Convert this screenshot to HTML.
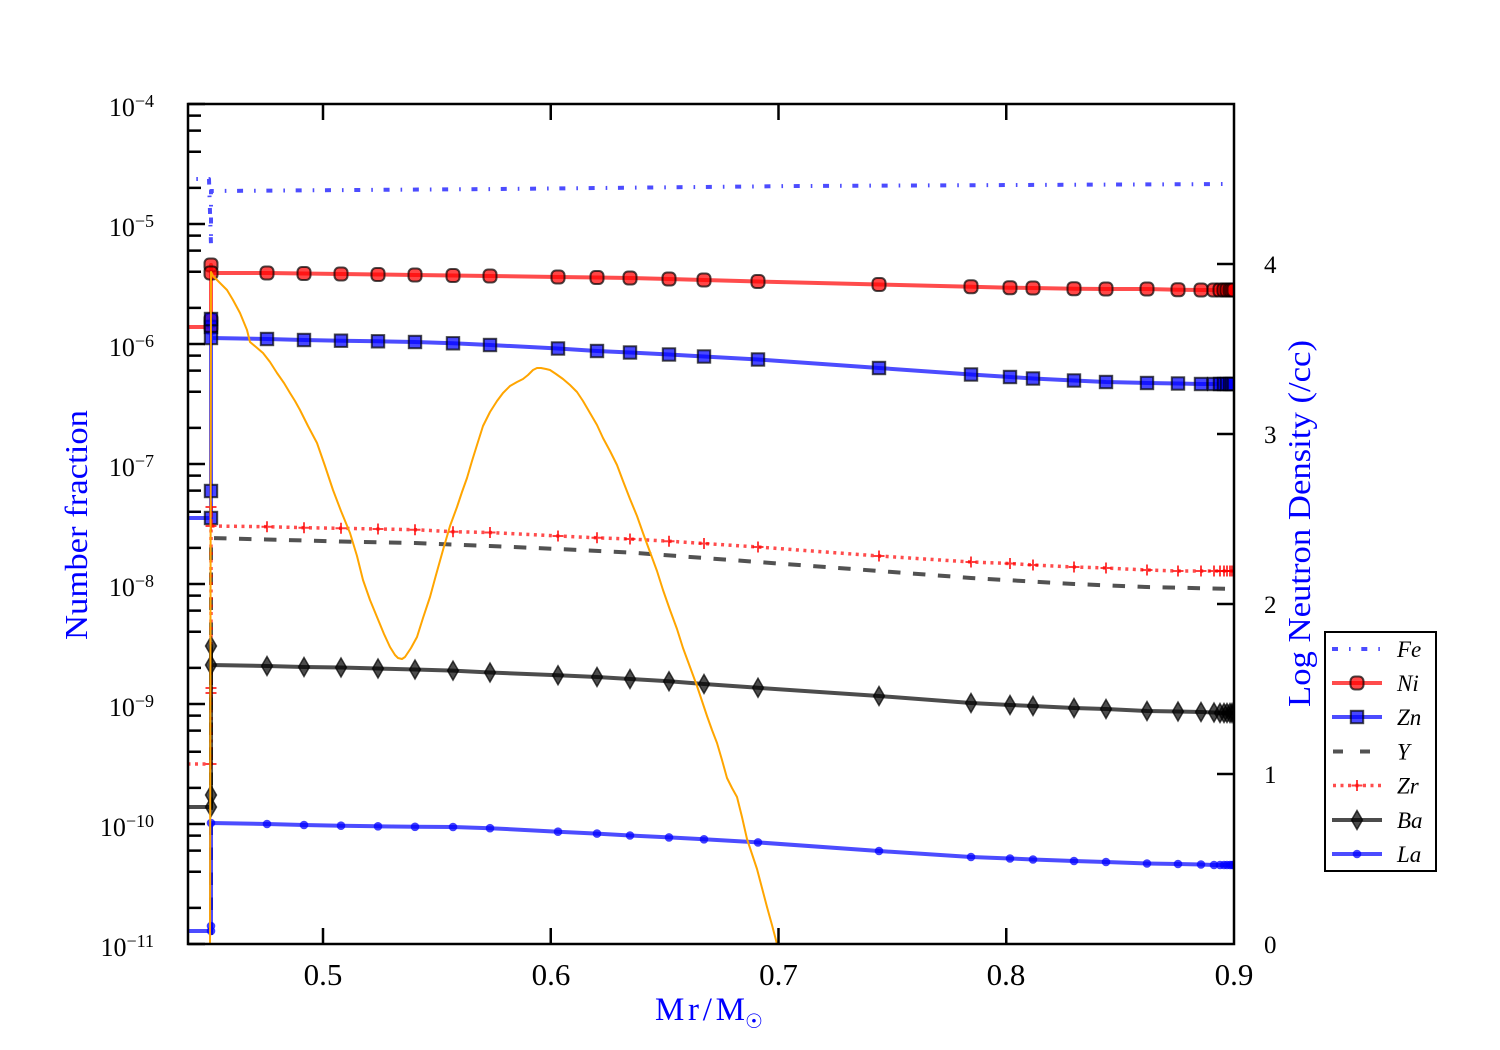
<!DOCTYPE html>
<html><head><meta charset="utf-8"><style>html,body{margin:0;padding:0;background:#fff}svg{display:block}</style></head><body>
<svg width="1500" height="1050" viewBox="0 0 1500 1050" xmlns="http://www.w3.org/2000/svg" font-family="'Liberation Serif', 'DejaVu Serif', serif">
<defs>
<clipPath id="c"><rect x="188" y="104" width="1046" height="840"/></clipPath>
<marker id="mNi" markerUnits="userSpaceOnUse" markerWidth="20" markerHeight="20" refX="10" refY="10" overflow="visible"><rect x="3.5" y="3.5" width="13" height="13" rx="4.5" fill="#ff0000" fill-opacity="0.72" stroke="#000" stroke-opacity="0.7" stroke-width="2"/></marker>
<marker id="mZn" markerUnits="userSpaceOnUse" markerWidth="20" markerHeight="20" refX="10" refY="10" overflow="visible"><rect x="3.8" y="3.8" width="12.4" height="12.4" fill="#0000ff" fill-opacity="0.72" stroke="#000" stroke-opacity="0.7" stroke-width="2"/></marker>
<marker id="mZr" markerUnits="userSpaceOnUse" markerWidth="20" markerHeight="20" refX="10" refY="10" overflow="visible"><path d="M4.5 10 H15.5 M10 4.5 V15.5" stroke="#ff0000" stroke-opacity="0.75" stroke-width="2" fill="none"/></marker>
<marker id="mBa" markerUnits="userSpaceOnUse" markerWidth="20" markerHeight="20" refX="10" refY="10" overflow="visible"><path d="M10 0.5 L15.5 10 L10 19.5 L4.5 10 Z" fill="#000" fill-opacity="0.7" stroke="#000" stroke-opacity="0.7" stroke-width="1.5"/></marker>
<marker id="mLa" markerUnits="userSpaceOnUse" markerWidth="20" markerHeight="20" refX="10" refY="10" overflow="visible"><circle cx="10" cy="10" r="4.3" fill="#0000ff" fill-opacity="0.75"/></marker>
</defs>
<rect width="1500" height="1050" fill="#fff"/>

<g clip-path="url(#c)" fill="none" stroke-linejoin="round">
<polyline points="150,179 209,179 211,245 211,191 500,189 800,186 1234,184" stroke="#0000ff" stroke-opacity="0.7" stroke-width="4" stroke-dasharray="6 11 1.6 10.7"/>
<polyline points="150,327 211,327 211,320 211,265 211,273 267,273 304,273.5 341,274 378,274.5 415,275 453,275.5 490,276 558,277 597,277.5 630,278 669,279 704,280 758,281.5 879,284.5 971,286.7 1010,287.7 1033,288 1074,288.7 1106,289 1147,289 1178,289.7 1201,290 1214,290 1220,290 1224,290 1227,290 1230,290 1232,290 1234,290" stroke="#ff0000" stroke-opacity="0.7" stroke-width="4" marker-mid="url(#mNi)" marker-end="url(#mNi)"/>
<polyline points="150,518 211,518 211,491 211,327 211,319 211,338 267,339 304,340 341,340.7 378,341.3 415,342 453,343.3 490,345 558,348.5 597,351 630,352.5 669,354.5 704,356.5 758,359.5 879,368 971,374.5 1010,377 1033,378.5 1074,380.5 1106,382 1147,383 1178,383.5 1201,384 1214,384 1220,384 1224,384 1227,384 1230,384 1232,384 1234,384" stroke="#0000ff" stroke-opacity="0.7" stroke-width="4" marker-mid="url(#mZn)" marker-end="url(#mZn)"/>
<polyline points="211,960 211,538 267,539.5 341,541.5 415,543 490,546 558,549 630,552.5 704,558 758,562 879,571 971,578 1074,584 1147,587 1234,589" stroke="#000" stroke-opacity="0.68" stroke-width="4" stroke-dasharray="12.5 12.5"/>
<polyline points="150,764 211,764 211,693 211,688 211,507 211,526 267,526.7 304,527.7 341,528.3 378,529 415,529.7 453,531.7 490,532.5 558,536 597,537.8 630,539 669,541.2 704,543.5 758,547 879,556 971,562 1010,563.5 1033,565 1074,567 1106,568 1147,570 1178,571 1201,571 1214,571 1220,571 1224,571 1227,571 1230,571 1232,571 1234,571" stroke="#ff0000" stroke-opacity="0.7" stroke-width="3.5" stroke-dasharray="3 4.5" marker-mid="url(#mZr)" marker-end="url(#mZr)"/>
<polyline points="150,807 211,807 211,795 211,646 211,665 267,666 304,667 341,667.5 378,668.5 415,669.5 453,670.6 490,672.5 558,675.2 597,677 630,679 669,681.3 704,684 758,687.8 879,696 971,703 1010,705 1033,706 1074,708 1106,709 1147,711 1178,711.5 1201,712 1214,712.5 1220,713 1224,713 1227,713 1230,713 1232,713 1234,713" stroke="#000" stroke-opacity="0.7" stroke-width="4" marker-mid="url(#mBa)" marker-end="url(#mBa)"/>
<polyline points="150,931 211,931 211,926 211,823 267,824 304,825 341,825.7 378,826.3 415,826.8 453,827 490,828.2 558,831.7 597,833.6 630,835.5 669,837.4 704,839.3 758,842.4 879,851 971,857 1010,858.5 1033,859.5 1074,861 1106,862 1147,863.5 1178,864 1201,864.5 1214,865 1220,865 1224,865 1227,865 1230,865 1232,865 1234,865" stroke="#0000ff" stroke-opacity="0.7" stroke-width="4" marker-mid="url(#mLa)" marker-end="url(#mLa)"/>
<polyline points="210,950 211,272 213,276 220,283 227,290 233,300 240,313 247,330 250,342 256,347 263,353 270,362 277,373 284,383 290,393 295,401 300,410 308,426 317,443 325,466 333,490 341,511 350,533 357,556 363,580 370,600 377,617 384,634 390,647 395,655 398,658 402,659 405,657 411,648 417,637 423,618 430,597 436,575 443,550 450,526 457,507 462,492 467,478 472,461 477,445 483,426 490,412 497,401 503,393 510,386 517,382 523,379 528,375 533,370 537,368 541,368 546,369 550,370 556,374 563,379 570,385 577,392 583,401 590,413 597,425 603,438 610,451 617,465 623,481 630,499 637,516 643,533 650,552 657,571 663,590 670,610 677,629 683,648 690,667 697,686 702,701 707,716 712,730 717,743 722,760 727,778 732,788 737,797 742,817 747,839 752,854 757,869 762,888 767,907 772,925 777,944 778,950" stroke="#ffa500" stroke-width="2"/>
</g>

<rect x="188" y="104" width="1046" height="840" fill="none" stroke="#000" stroke-width="2.5"/>
<g stroke="#000" stroke-width="2.5" fill="none">
<path d="M188 104h17M188 224h17M188 344h17M188 464h17M188 584h17M188 704h17M188 824h17M188 944h17"/>
<path d="M188 187.9h13M188 151.8h13M188 130.6h13M188 115.6h13
M188 307.9h13M188 271.8h13M188 250.6h13M188 235.6h13
M188 427.9h13M188 391.8h13M188 370.6h13M188 355.6h13
M188 547.9h13M188 511.8h13M188 490.6h13M188 475.6h13
M188 667.9h13M188 631.8h13M188 610.6h13M188 595.6h13
M188 787.9h13M188 751.8h13M188 730.6h13M188 715.6h13
M188 907.9h13M188 871.8h13M188 850.6h13M188 835.6h13"/>
<path d="M323 944v-16M550.75 944v-16M778.5 944v-16M1006.25 944v-16"/>
<path d="M323 104v16M550.75 104v16M778.5 104v16M1006.25 104v16"/>
<path d="M1234 774h-17M1234 604h-17M1234 434h-17M1234 264h-17"/>
</g>

<g font-size="26" fill="#000" text-anchor="end">
<text x="154" y="116">10<tspan font-size="18" dy="-9">−4</tspan></text>
<text x="154" y="236">10<tspan font-size="18" dy="-9">−5</tspan></text>
<text x="154" y="356">10<tspan font-size="18" dy="-9">−6</tspan></text>
<text x="154" y="476">10<tspan font-size="18" dy="-9">−7</tspan></text>
<text x="154" y="596">10<tspan font-size="18" dy="-9">−8</tspan></text>
<text x="154" y="716">10<tspan font-size="18" dy="-9">−9</tspan></text>
<text x="154" y="836">10<tspan font-size="18" dy="-9">−10</tspan></text>
<text x="154" y="956">10<tspan font-size="18" dy="-9">−11</tspan></text>
</g>
<g font-size="31" fill="#000" text-anchor="middle">
<text x="323" y="985">0.5</text>
<text x="551" y="985">0.6</text>
<text x="778.5" y="985">0.7</text>
<text x="1006" y="985">0.8</text>
<text x="1234" y="985">0.9</text>
</g>
<g font-size="25" fill="#000">
<text x="1264" y="953">0</text>
<text x="1264" y="783">1</text>
<text x="1264" y="613">2</text>
<text x="1264" y="443">3</text>
<text x="1264" y="273">4</text>
</g>

<text transform="translate(87,525) rotate(-90)" text-anchor="middle" font-size="32" fill="#0000ff" textLength="230" lengthAdjust="spacingAndGlyphs">Number fraction</text>
<text transform="translate(1310,523.5) rotate(-90)" text-anchor="middle" font-size="32" fill="#0000ff" textLength="367" lengthAdjust="spacingAndGlyphs">Log Neutron Density (/cc)</text>
<text x="655" y="1020" font-size="33" fill="#0000ff" textLength="90" lengthAdjust="spacing">Mr/M</text>
<text x="745" y="1028" font-size="20" fill="#0000ff" font-family="'DejaVu Sans', sans-serif">☉</text>

<rect x="1325" y="632" width="111" height="239" fill="#fff" stroke="#000" stroke-width="2"/>
<g fill="none">
<polyline points="1332,649 1382,649" stroke="#0000ff" stroke-opacity="0.7" stroke-width="4" stroke-dasharray="6 11 1.6 10.7"/>
<polyline points="1332,683 1357,683 1382,683" stroke="#ff0000" stroke-opacity="0.7" stroke-width="4" marker-mid="url(#mNi)"/>
<polyline points="1332,717 1357,717 1382,717" stroke="#0000ff" stroke-opacity="0.7" stroke-width="4" marker-mid="url(#mZn)"/>
<polyline points="1333,751.5 1382,751.5" stroke="#000" stroke-opacity="0.68" stroke-width="4" stroke-dasharray="10 17"/>
<polyline points="1333,785.5 1357,785.5 1382,785.5" stroke="#ff0000" stroke-opacity="0.7" stroke-width="3.5" stroke-dasharray="3 4.5" marker-mid="url(#mZr)"/>
<polyline points="1332,820 1357,820 1382,820" stroke="#000" stroke-opacity="0.7" stroke-width="4" marker-mid="url(#mBa)"/>
<polyline points="1332,854 1357,854 1382,854" stroke="#0000ff" stroke-opacity="0.7" stroke-width="4" marker-mid="url(#mLa)"/>
</g>
<g font-size="23" font-style="italic" fill="#000">
<text x="1397" y="657">Fe</text>
<text x="1397" y="691">Ni</text>
<text x="1397" y="725">Zn</text>
<text x="1397" y="759.5">Y</text>
<text x="1397" y="793.5">Zr</text>
<text x="1397" y="828">Ba</text>
<text x="1397" y="862">La</text>
</g>
</svg>
</body></html>
